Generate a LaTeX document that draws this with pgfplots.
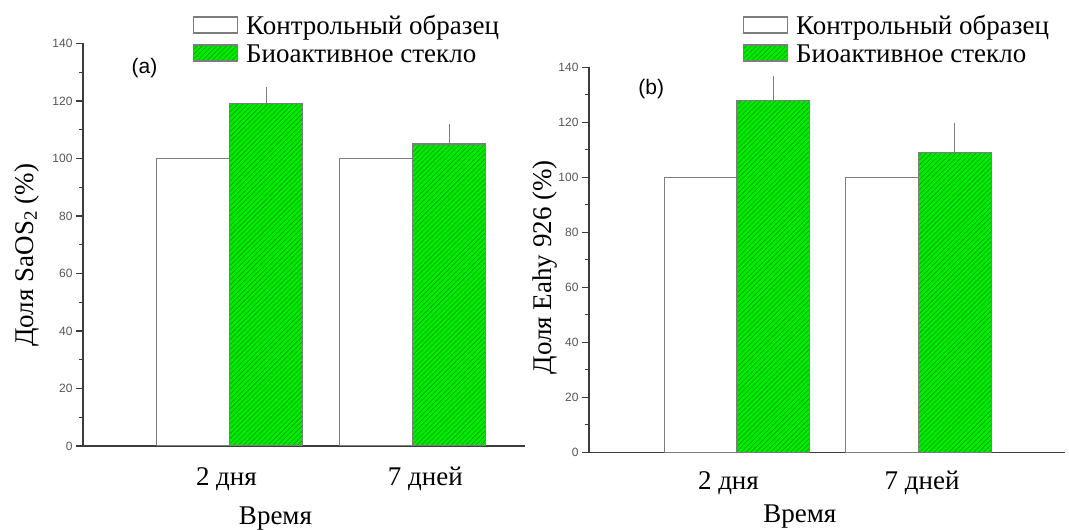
\documentclass[border=0pt]{standalone}
\usepackage{fontspec}
\setmainfont{Liberation Serif}
\newfontfamily\arialfont{Liberation Sans}
\usepackage{pgfplots}
\pgfplotsset{compat=1.18}
\usetikzlibrary{patterns.meta}

\definecolor{barGreen}{RGB}{0,235,0}
\definecolor{hatchGreen}{RGB}{0,160,0}
\definecolor{edgeGray}{RGB}{125,125,125}
\definecolor{axisGray}{RGB}{60,60,60}
\definecolor{tickText}{RGB}{85,85,85}

\pgfplotsset{
  panel/.style={
    scale only axis,
    axis x line*=bottom, axis y line*=left,
    axis line style={axisGray, line width=1.4pt},
    ymin=0, ymax=140, ytick={0,20,...,140}, minor y tick num=1,
    tick align=outside,
    major tick length=7pt, minor tick length=4pt,
    every y tick/.style={axisGray, line width=1.2pt},
    every minor y tick/.style={axisGray, line width=1.2pt},
    x tick style={draw=none},
    /pgf/number format/assume math mode=true,
    yticklabel style={font=\arialfont\fontsize{12}{14}\selectfont, text=tickText},
    xticklabel style={font=\fontsize{27}{30}\selectfont, anchor=base},
    xticklabels={2 дня, 7 дней},
    label style={font=\fontsize{27}{30}\selectfont},
    legend style={draw=none, fill=none, inner sep=0pt, outer sep=0pt,
      anchor=north west, column sep=8pt, row sep=-4.6pt,
      font=\fontsize{27}{30}\selectfont,
      nodes={inner sep=0pt, text height=14pt, text depth=14pt}},
    legend cell align=left,
  },
  ctrl/.style={ybar, bar width=0.4, bar shift=0pt, fill=white,
    draw=edgeGray, line width=1.2pt,
    legend image code/.code={\draw[##1] (0pt,2pt) rectangle (44pt,18pt);}},
  glass/.style={ybar, bar width=0.4, bar shift=0pt, fill=barGreen,
    draw=edgeGray, line width=1.2pt,
    postaction={pattern={Lines[angle=45,distance=3.5pt,line width=0.6pt]}, pattern color=hatchGreen},
    legend image code/.code={\draw[##1] (0pt,2pt) rectangle (44pt,18pt);},
    error bars/.cd, y dir=plus, y explicit,
    error bar style={edgeGray, line width=1.2pt},
    error mark options={edgeGray, mark size=2.5pt, line width=1.2pt}},
}

\begin{document}
\begin{tikzpicture}
\path[use as bounding box] (0,0) rectangle (1069pt,530pt);

% Panel (a): SaOS2 cells
\begin{axis}[panel,
  at={(83pt,84pt)}, anchor=south west,
  width=442pt, height=402.6pt,
  xmin=0.1975, xmax=2.615,
  xtick={0.982,2.07},
  xticklabel style={yshift=-33pt},
  xlabel={Время},
  xlabel style={at={(axis description cs:0.4355,0)}, anchor=base, yshift=-79pt},
  ylabel={Доля SaOS\textsubscript{2} (\%)},
  ylabel style={at={(axis description cs:-0.113,0.474)}, anchor=base},
  legend style={at={(axis description cs:0.2489,1.0671)}},
]
\addplot[ctrl] coordinates {(0.8,100) (1.8,100)};
\addlegendentry{Контрольный образец}
\addplot[glass] coordinates {(1.2,119) +- (0,5) (2.2,105) +- (0,6)};
\addlegendentry{Биоактивное стекло}
\node[font=\arialfont\fontsize{21}{24}\selectfont] at (axis cs:0.534,131.3) {(a)};
\end{axis}

% Panel (b): Eahy 926 cells
\begin{axis}[panel,
  at={(589pt,77.7pt)}, anchor=south west,
  width=476pt, height=385pt,
  xmin=0.185, xmax=2.807,
  xtick={0.953,2.02},
  xticklabel style={yshift=-30pt},
  xlabel={Время},
  xlabel style={at={(axis description cs:0.443,0)}, anchor=base, yshift=-70.7pt},
  ylabel={Доля Eahy 926 (\%)},
  ylabel style={at={(axis description cs:-0.0798,0.481)}, anchor=base},
  legend style={at={(axis description cs:0.3235,1.1322)}},
]
\addplot[ctrl] coordinates {(0.8,100) (1.8,100)};
\addlegendentry{Контрольный образец}
\addplot[glass] coordinates {(1.2,128) +- (0,8) (2.2,109) +- (0,10)};
\addlegendentry{Биоактивное стекло}
\node[font=\arialfont\fontsize{21}{24}\selectfont] at (axis cs:0.528,132.2) {(b)};
\end{axis}
\end{tikzpicture}
\end{document}
